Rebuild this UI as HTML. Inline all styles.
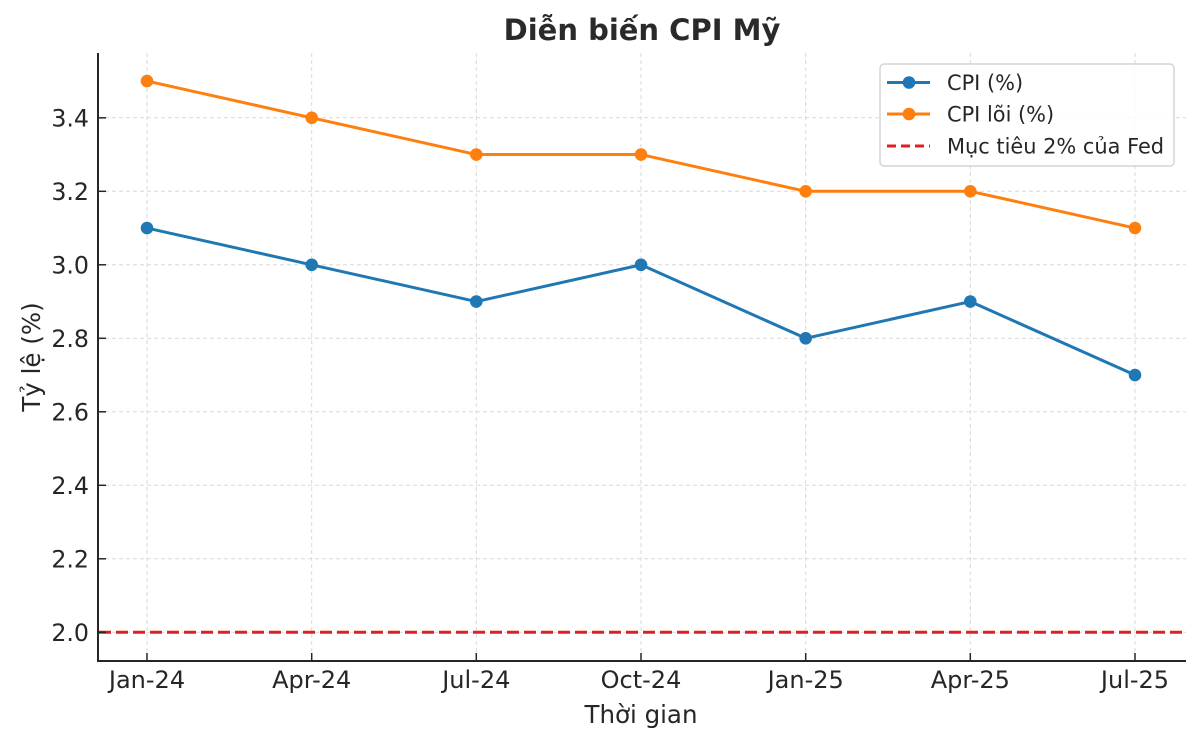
<!DOCTYPE html>
<html>
<head>
<meta charset="utf-8">
<style>
  html,body{margin:0;padding:0;background:#fff;}
  svg{display:block;}
  text{font-family:"DejaVu Sans","Liberation Sans",sans-serif;fill:#262626;}
</style>
</head>
<body>
<svg width="1200" height="743" viewBox="0 0 1200 743" xmlns="http://www.w3.org/2000/svg">
  <rect width="1200" height="743" fill="#fff"/>
  <!-- grid -->
  <g stroke="#d9d9d9" stroke-width="1" stroke-dasharray="4,3" fill="none">
    <line x1="147" y1="53" x2="147" y2="661"/>
    <line x1="311.7" y1="53" x2="311.7" y2="661"/>
    <line x1="476.3" y1="53" x2="476.3" y2="661"/>
    <line x1="641" y1="53" x2="641" y2="661"/>
    <line x1="805.7" y1="53" x2="805.7" y2="661"/>
    <line x1="970.3" y1="53" x2="970.3" y2="661"/>
    <line x1="1135" y1="53" x2="1135" y2="661"/>
    <line x1="98" y1="632.3" x2="1186" y2="632.3"/>
    <line x1="98" y1="558.8" x2="1186" y2="558.8"/>
    <line x1="98" y1="485.3" x2="1186" y2="485.3"/>
    <line x1="98" y1="411.8" x2="1186" y2="411.8"/>
    <line x1="98" y1="338.3" x2="1186" y2="338.3"/>
    <line x1="98" y1="264.8" x2="1186" y2="264.8"/>
    <line x1="98" y1="191.3" x2="1186" y2="191.3"/>
    <line x1="98" y1="117.8" x2="1186" y2="117.8"/>
  </g>

  <!-- red target line -->
  <line x1="99" y1="632.3" x2="1184" y2="632.3" stroke="#e02020" stroke-width="3" stroke-dasharray="12,5"/>

  <!-- CPI series -->
  <polyline points="147,228.05 311.7,264.8 476.3,301.55 641,264.8 805.7,338.3 970.3,301.55 1135,375.05" fill="none" stroke="#1f77b4" stroke-width="3" stroke-linejoin="round"/>
  <g fill="#1f77b4">
    <circle cx="147" cy="228.05" r="6.3"/>
    <circle cx="311.7" cy="264.8" r="6.3"/>
    <circle cx="476.3" cy="301.55" r="6.3"/>
    <circle cx="641" cy="264.8" r="6.3"/>
    <circle cx="805.7" cy="338.3" r="6.3"/>
    <circle cx="970.3" cy="301.55" r="6.3"/>
    <circle cx="1135" cy="375.05" r="6.3"/>
  </g>

  <!-- Core CPI series -->
  <polyline points="147,81.05 311.7,117.8 476.3,154.55 641,154.55 805.7,191.3 970.3,191.3 1135,228.05" fill="none" stroke="#ff7f0e" stroke-width="3" stroke-linejoin="round"/>
  <g fill="#ff7f0e">
    <circle cx="147" cy="81.05" r="6.3"/>
    <circle cx="311.7" cy="117.8" r="6.3"/>
    <circle cx="476.3" cy="154.55" r="6.3"/>
    <circle cx="641" cy="154.55" r="6.3"/>
    <circle cx="805.7" cy="191.3" r="6.3"/>
    <circle cx="970.3" cy="191.3" r="6.3"/>
    <circle cx="1135" cy="228.05" r="6.3"/>
  </g>

  <!-- spines -->
  <line x1="98" y1="53" x2="98" y2="662" stroke="#262626" stroke-width="2"/>
  <line x1="97" y1="661" x2="1186" y2="661" stroke="#262626" stroke-width="2"/>

  <!-- ticks (inward) -->
  <g stroke="#262626" stroke-width="1.5">
    <line x1="147" y1="661" x2="147" y2="653"/>
    <line x1="311.7" y1="661" x2="311.7" y2="653"/>
    <line x1="476.3" y1="661" x2="476.3" y2="653"/>
    <line x1="641" y1="661" x2="641" y2="653"/>
    <line x1="805.7" y1="661" x2="805.7" y2="653"/>
    <line x1="970.3" y1="661" x2="970.3" y2="653"/>
    <line x1="1135" y1="661" x2="1135" y2="653"/>
    <line x1="98" y1="632.3" x2="106" y2="632.3"/>
    <line x1="98" y1="558.8" x2="106" y2="558.8"/>
    <line x1="98" y1="485.3" x2="106" y2="485.3"/>
    <line x1="98" y1="411.8" x2="106" y2="411.8"/>
    <line x1="98" y1="338.3" x2="106" y2="338.3"/>
    <line x1="98" y1="264.8" x2="106" y2="264.8"/>
    <line x1="98" y1="191.3" x2="106" y2="191.3"/>
    <line x1="98" y1="117.8" x2="106" y2="117.8"/>
  </g>

  <!-- y tick labels -->
  <g font-size="23.7" text-anchor="end">
    <text x="89" y="640.8">2.0</text>
    <text x="89" y="567.3">2.2</text>
    <text x="89" y="493.8">2.4</text>
    <text x="89" y="420.3">2.6</text>
    <text x="89" y="346.8">2.8</text>
    <text x="89" y="273.3">3.0</text>
    <text x="89" y="199.8">3.2</text>
    <text x="89" y="126.3">3.4</text>
  </g>

  <!-- x tick labels -->
  <g font-size="24" text-anchor="middle">
    <text x="147" y="688">Jan-24</text>
    <text x="311.7" y="688">Apr-24</text>
    <text x="476.3" y="688">Jul-24</text>
    <text x="641" y="688">Oct-24</text>
    <text x="805.7" y="688">Jan-25</text>
    <text x="970.3" y="688">Apr-25</text>
    <text x="1135" y="688">Jul-25</text>
  </g>

  <!-- axis labels -->
  <text x="641" y="723" font-size="24.5" text-anchor="middle">Thời gian</text>
  <text transform="translate(40,357) rotate(-90)" font-size="24.5" text-anchor="middle">Tỷ lệ (%)</text>

  <!-- title -->
  <text x="642" y="40" font-size="29" font-weight="bold" text-anchor="middle" style="fill:#2a2a2a">Diễn biến CPI Mỹ</text>

  <!-- legend -->
  <rect x="880" y="64" width="294" height="102" rx="4" ry="4" fill="#fff" fill-opacity="0.85" stroke="#cccccc" stroke-width="1.2"/>
  <line x1="887" y1="82.5" x2="930" y2="82.5" stroke="#1f77b4" stroke-width="3"/>
  <circle cx="909" cy="82.5" r="6.3" fill="#1f77b4"/>
  <line x1="887" y1="114" x2="930" y2="114" stroke="#ff7f0e" stroke-width="3"/>
  <circle cx="909" cy="114" r="6.3" fill="#ff7f0e"/>
  <line x1="887" y1="146" x2="930" y2="146" stroke="#e02020" stroke-width="3" stroke-dasharray="9,5"/>
  <g font-size="20.9">
    <text x="947" y="90">CPI (%)</text>
    <text x="947" y="121.5">CPI lõi (%)</text>
    <text x="947" y="153.5">Mục tiêu 2% của Fed</text>
  </g>
</svg>
</body>
</html>
